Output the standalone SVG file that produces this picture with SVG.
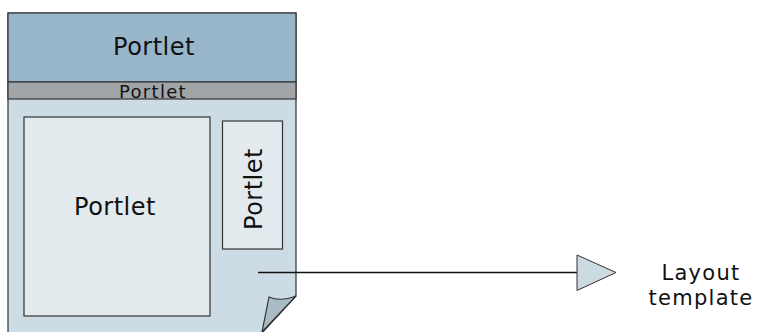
<svg xmlns="http://www.w3.org/2000/svg" width="757" height="332" viewBox="0 0 757 332">
<style>
text{font-family:"DejaVu Sans",Verdana,sans-serif;fill:#111}
.box{stroke:#333;stroke-width:1.2}
.big{font-size:24px;text-anchor:middle;letter-spacing:0.5px}
.lab{font-size:21px;text-anchor:middle;letter-spacing:1.3px}
</style>
<rect width="757" height="332" fill="#fff"/>
<g id="page">
<path class="box" d="M8,333 V13 H296 V296 L262,333" fill="#cddce4"/>
<path class="box" d="M269,297 Q280,302 296,296 L262,332 Z" fill="#a9bcc6" stroke-width="1"/>
</g>
<g id="header">
<rect class="box" x="8" y="13" width="288" height="69" fill="#98b6c9"/>
<text class="big" x="154" y="55">Portlet</text>
</g>
<g id="band">
<rect class="box" x="8" y="82" width="288" height="17" fill="#a1a5a7"/>
<text x="153" y="98.3" font-size="18" text-anchor="middle" letter-spacing="1.3">Portlet</text>
</g>
<g id="main-portlet">
<rect class="box" x="24" y="117" width="186" height="199" fill="#e3eaee"/>
<text class="big" x="115" y="215">Portlet</text>
</g>
<g id="side-portlet">
<rect class="box" x="222.5" y="121" width="60" height="128" fill="#e3eaee"/>
<text class="big" transform="translate(261.5,189) rotate(-90)">Portlet</text>
</g>
<g id="connectors">
<line x1="258" y1="272.5" x2="577" y2="272.5" stroke="#111" stroke-width="1.5"/>
<polygon points="577,255 616,272.5 577,290.5" fill="#ccdae2" stroke="#333" stroke-width="1"/>
</g>
<g id="label">
<text class="lab" x="701" y="280">Layout</text>
<text class="lab" x="701" y="304.5">template</text>
</g>
</svg>
